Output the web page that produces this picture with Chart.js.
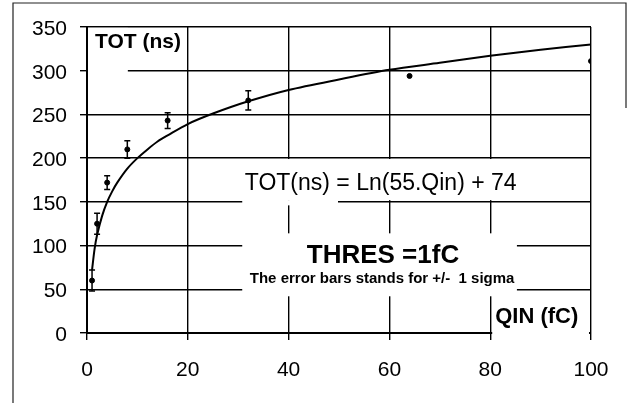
<!DOCTYPE html>
<html>
<head>
<meta charset="utf-8">
<script src="https://cdn.jsdelivr.net/npm/chart.js@4/dist/chart.umd.min.js"></script>
<style>
  html, body { margin: 0; padding: 0; background: #fff; }
  canvas { display: block; }
</style>
</head>
<body>
<canvas id="totChart" width="627" height="403"></canvas>
<script>
// measured points (QIN in fC, TOT in ns, +/- 1 sigma)
const qin = [1, 2, 4, 8, 16, 32, 64, 100];
const tot = [60, 125, 172, 210, 243, 266, 294, 311];
const sigma = [12, 12, 8, 10, 9, 11, 0, 0];

// fitted curve
const fitQin = [1, 1.5, 2, 3, 4, 5, 6, 8, 10, 12, 14, 16, 20, 25, 32, 40, 50, 60, 70, 80, 90, 100];
const fitTot = [72, 96, 112, 134, 150, 162, 172, 188, 200, 210, 219, 226, 239, 251, 265, 278, 290, 301, 309, 317, 324, 330];

const xTicks = [0, 20, 40, 60, 80, 100];
const yTicks = [0, 50, 100, 150, 200, 250, 300, 350];

const FONT = "'Liberation Sans', Arial, sans-serif";

// white patches behind the labels (data coordinates: x1, y1, x2, y2)
const labelBoxes = [
    [0.2, 349, 8.1, 294],
    [30.8, 199, 99.6, 152],
    [30.8, 152, 49.8, 146],
    [30.8, 114, 85.3, 42],
    [80.4, 42, 99.6, -3],
];

const labels = [
    { text: "TOT (ns)", x: 1.6, y: 326, font: "bold 21px " + FONT },
    { text: "TOT(ns) = Ln(55.Qin) + 74", x: 31.3, y: 163.6, font: "23px " + FONT },
    { text: "THRES =1fC", x: 43.6, y: 80, font: "bold 26px " + FONT },
    { text: "The error bars stands for +/-  1 sigma", x: 32.3, y: 57, font: "bold 15px " + FONT },
    { text: "QIN (fC)", x: 81, y: 11, font: "bold 22px " + FONT },
];

const boxesPlugin = {
    id: "boxes",
    beforeDatasetsDraw(chart) {
        const { ctx, scales: { x, y } } = chart;
        ctx.save();
        ctx.fillStyle = "#fff";
        labelBoxes.forEach(([x1, y1, x2, y2]) => {
            const px1 = x.getPixelForValue(x1), px2 = x.getPixelForValue(x2);
            const py1 = y.getPixelForValue(y1), py2 = y.getPixelForValue(y2);
            ctx.fillRect(px1, py1, px2 - px1, py2 - py1);
        });
        ctx.restore();
    },
    afterDatasetsDraw(chart) {
        const { ctx, scales: { x, y } } = chart;
        ctx.save();
        // error bars
        ctx.strokeStyle = "#000";
        ctx.lineWidth = 1.5;
        qin.forEach((q, i) => {
            if (!sigma[i]) return;
            const px = x.getPixelForValue(q);
            const top = y.getPixelForValue(tot[i] + sigma[i]);
            const bot = y.getPixelForValue(tot[i] - sigma[i]);
            ctx.beginPath();
            ctx.moveTo(px, top);
            ctx.lineTo(px, bot);
            ctx.moveTo(px - 3, top);
            ctx.lineTo(px + 3, top);
            ctx.moveTo(px - 3, bot);
            ctx.lineTo(px + 3, bot);
            ctx.stroke();
        });
        // labels
        ctx.fillStyle = "#000";
        ctx.textAlign = "left";
        ctx.textBaseline = "alphabetic";
        labels.forEach((l) => {
            ctx.font = l.font;
            ctx.fillText(l.text, x.getPixelForValue(l.x), y.getPixelForValue(l.y));
        });
        ctx.restore();
    },
    afterDraw(chart) {
        // scanned page frame
        const ctx = chart.ctx;
        ctx.save();
        ctx.strokeStyle = "#222";
        ctx.lineWidth = 1.2;
        ctx.beginPath();
        ctx.moveTo(13, 403);
        ctx.lineTo(13, 3);
        ctx.lineTo(626, 3);
        ctx.lineTo(626, 108);
        ctx.stroke();
        ctx.restore();
    },
};

const ctx = document.getElementById("totChart").getContext("2d");
new Chart(ctx, {
    type: "scatter",
    data: {
        datasets: [
            {
                label: "fit",
                data: fitQin.map((q, i) => ({ x: q, y: fitTot[i] })),
                showLine: true,
                borderColor: "#000",
                borderWidth: 2,
                pointRadius: 0,
                tension: 0.3,
            },
            {
                label: "TOT",
                data: qin.map((q, i) => ({ x: q, y: tot[i] })),
                backgroundColor: "#000",
                borderColor: "#000",
                pointRadius: 2.5,
            },
        ],
    },
    options: {
        responsive: false,
        animation: false,
        layout: { padding: { left: 0, top: 27, right: 36, bottom: 0 } },
        plugins: { legend: { display: false }, tooltip: { enabled: false } },
        scales: {
            x: {
                type: "linear",
                min: 0,
                max: 100,
                afterFit: (s) => { s.height = 70; },
                afterBuildTicks: (s) => { s.ticks = xTicks.map((v) => ({ value: v })); },
                grid: { color: "#000", lineWidth: 1.4, tickLength: 7, tickColor: "#000" },
                border: { color: "#000", width: 2 },
                ticks: { color: "#000", padding: 18, maxRotation: 0, font: { family: FONT, size: 21 } },
            },
            y: {
                min: 0,
                max: 350,
                afterFit: (s) => { s.width = 87; },
                afterBuildTicks: (s) => { s.ticks = yTicks.map((v) => ({ value: v })); },
                grid: { color: "#000", lineWidth: 1.4, tickLength: 7, tickColor: "#000" },
                border: { color: "#000", width: 2 },
                ticks: { color: "#000", padding: 13, labelOffset: 2, font: { family: FONT, size: 21 } },
            },
        },
    },
    plugins: [boxesPlugin],
});
</script>
</body>
</html>
